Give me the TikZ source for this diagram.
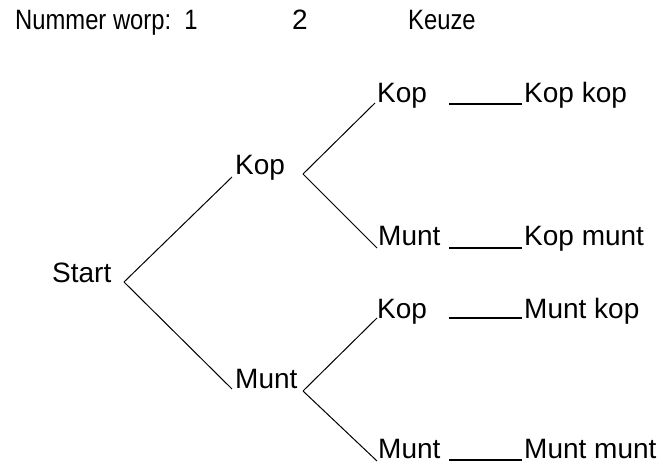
\documentclass[tikz,border=0pt]{standalone}
\usepackage{fontspec}
\usepackage{graphicx}
\setmainfont{Liberation Sans}
\usetikzlibrary{calc}
\tikzset{
  lbl/.style={inner sep=0pt, anchor=base west, font=\fontsize{28}{32}\selectfont},
  branch/.style={line width=1pt, black},
  link/.style={line width=1.6pt, black}
}
\begin{document}
\begin{tikzpicture}[x=1pt,y=1pt]
  \useasboundingbox (0,0) rectangle (670,466);
  % column headings
  \node[lbl] (h1) at (15,436) {\scalebox{0.85}[1]{Nummer worp:\ \ 1}};
  \node[lbl] (h2) at (292,436) {2};
  \node[lbl] (h3) at (408,436) {\scalebox{0.85}[1]{Keuze}};
  % tree nodes
  \node[lbl] (start) at (52,183) {Start};
  \node[lbl] (kop1)  at (235,291) {Kop};
  \node[lbl] (munt1) at (235,77) {Munt};
  \node[lbl] (kopA)  at (377,363) {Kop};
  \node[lbl] (muntA) at (378,220) {Munt};
  \node[lbl] (kopB)  at (377,147) {Kop};
  \node[lbl] (muntB) at (378,7) {Munt};
  % outcomes
  \node[lbl] (kk) at (524,363) {Kop kop};
  \node[lbl] (km) at (524,220) {Kop munt};
  \node[lbl] (mk) at (524,147) {Munt kop};
  \node[lbl] (mm) at (524,7) {Munt munt};
  % branch points
  \coordinate (s0) at (124,184);
  \coordinate (j1) at (303,292);
  \coordinate (j2) at (303,75);
  % first throw
  \draw[branch] (s0) -- ([shift={(-3,-2)}]kop1.base west);
  \draw[branch] (s0) -- ([shift={(-3,0)}]munt1.base west);
  % second throw
  \draw[branch] (j1) -- ([shift={(-2,0)}]kopA.base west);
  \draw[branch] (j1) -- ([shift={(-1,-2)}]muntA.base west);
  \draw[branch] (j2) -- ([shift={(0,1)}]kopB.base west);
  \draw[branch] (j2) -- ([shift={(-1,-2)}]muntB.base west);
  % links to outcomes
  \draw[link] (449,362) -- ([shift={(-2,-1)}]kk.base west);
  \draw[link] (449,218) -- ([shift={(-2,-2)}]km.base west);
  \draw[link] (449,148) -- ([shift={(-2,1)}]mk.base west);
  \draw[link] (449,6) -- ([shift={(-2,-1)}]mm.base west);
\end{tikzpicture}
\end{document}
